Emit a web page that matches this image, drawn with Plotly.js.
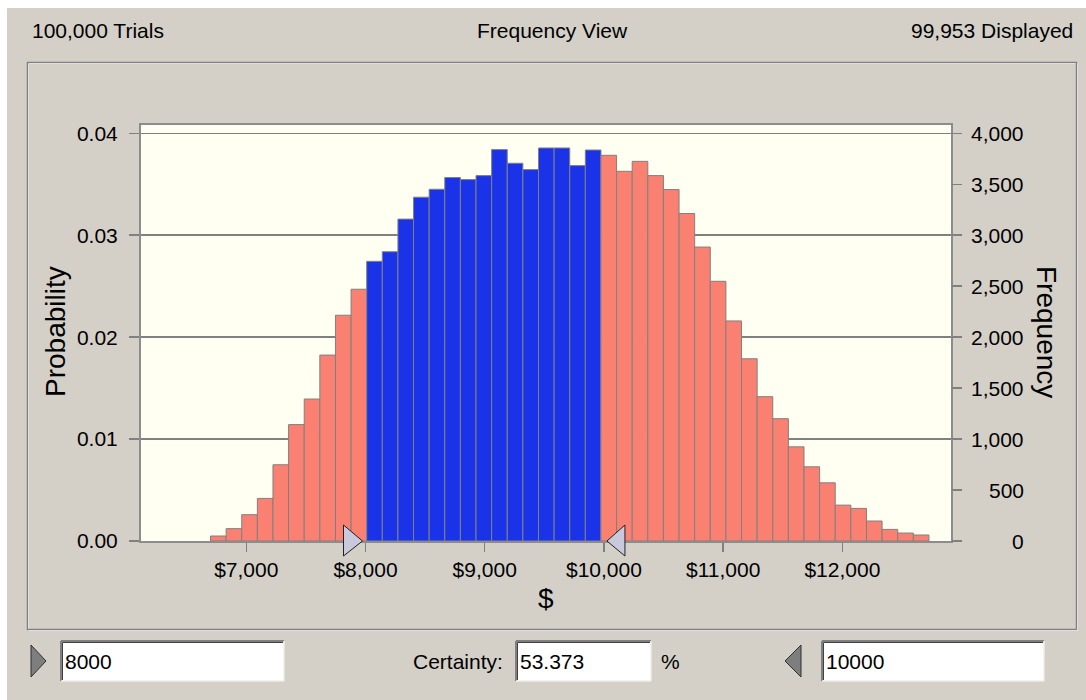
<!DOCTYPE html>
<html><head><meta charset="utf-8">
<script src="https://cdn.plot.ly/plotly-3.0.1.min.js"></script>
<style>html,body{margin:0;padding:0;background:#D4D0C8;overflow:hidden}#chart{width:1086px;height:700px}</style>
</head><body><div id="chart"></div>
<script>
// ---- data ----
const trials = 100000;
const displayed = 99953;
const certainty = "53.373";
const lowerBound = 8000;
const upperBound = 10000;
const binStart = 6700;
const binWidth = 131;
const frequency = [49,121,258,418,748,1142,1393,1824,2215,2470,
  2744,2838,3158,3373,3451,3566,3546,3585,3840,3706,3644,3856,3856,3683,3836,
  3784,3627,3725,3585,3448,3213,2884,2548,2159,1788,1416,1200,924,728,571,352,320,196,114,78,59];
const xTickVals = [7000,8000,9000,10000,11000,12000];
const xTickText = ["$7,000","$8,000","$9,000","$10,000","$11,000","$12,000"];
const probTickVals = [0,0.01,0.02,0.03,0.04];
const probTickText = ["0.00","0.01","0.02","0.03","0.04"];
const freqTickVals = [0,500,1000,1500,2000,2500,3000,3500,4000];
const freqTickText = ["0","500","1,000","1,500","2,000","2,500","3,000","3,500","4,000"];

// ---- styling / geometry ----
const FONT = "Liberation Sans, Arial, sans-serif";
const RED = "#FA8072", BLUE = "#1B33E8", GRAY = "#D4D0C8";
const L = 141, R = 951, T = 125, B = 541, W = R - L, H = B - T;
const ax = p => (p - L) / W;
const ay = p => (B - p) / H;

const centers = frequency.map((_, i) => binStart + binWidth * (i + 0.5));
const prob = frequency.map(f => f / trials);
const colors = centers.map(c => (c > lowerBound && c < upperBound) ? BLUE : RED);

const probTop = 0.040814;

const traces = [
  {type: "bar", x: centers, y: prob, width: binWidth, yaxis: "y",
   marker: {color: colors, line: {color: "#808080", width: 1}}, hoverinfo: "x+y"},
  {type: "scatter", mode: "markers", x: centers, y: frequency, yaxis: "y2",
   marker: {opacity: 0, size: 1}, hoverinfo: "skip"}
];

function line(x0, y0, x1, y1, color, w) {
  return {type: "line", xref: "paper", yref: "paper", x0: ax(x0), y0: ay(y0), x1: ax(x1), y1: ay(y1),
          line: {color: color, width: w}, layer: "above"};
}
function textBox(x0, y0, x1, y1) {
  return [
    {type: "rect", xref: "paper", yref: "paper", x0: ax(x0), y0: ay(y0), x1: ax(x1), y1: ay(y1),
     fillcolor: "#FFFFFF", line: {width: 0}, layer: "above"},
    line(x0, y0, x1, y0, "#808080", 2),
    line(x0, y0, x0, y1, "#808080", 2),
    line(x0 + 1.5, y0 + 1.5, x1 - 1, y0 + 1.5, "#404040", 1),
    line(x0 + 1.5, y0 + 1.5, x0 + 1.5, y1 - 1, "#404040", 1),
    line(x0, y1, x1, y1, "#F0EEE8", 1.5),
    line(x1, y0, x1, y1, "#F0EEE8", 1.5)
  ];
}

const shapes = [
  // white margins of the screenshot
  {type: "rect", xref: "paper", yref: "paper", x0: ax(0), x1: ax(1086), y0: ay(0), y1: ay(8), fillcolor: "#FFFFFF", line: {width: 0}, layer: "above"},
  {type: "rect", xref: "paper", yref: "paper", x0: ax(0), x1: ax(7), y0: ay(0), y1: ay(700), fillcolor: "#FFFFFF", line: {width: 0}, layer: "above"},
  // etched frame
  {type: "rect", xref: "paper", yref: "paper", x0: ax(28.5), x1: ax(1077.5), y0: ay(63.5), y1: ay(630.5), line: {color: "#FFFFFF", width: 1}, layer: "below"},
  {type: "rect", xref: "paper", yref: "paper", x0: ax(27.5), x1: ax(1076.5), y0: ay(62.5), y1: ay(629.5), line: {color: "#808080", width: 1.5}, layer: "below"},
  // bound markers on the axis
  {type: "path", xref: "x", yref: "paper", xsizemode: "pixel", ysizemode: "pixel", xanchor: lowerBound, yanchor: 0,
   path: "M -22 16 L -22 -15 L -3 0 Z", fillcolor: "#C9C9DD", line: {color: "#202020", width: 1}, layer: "above"},
  {type: "path", xref: "x", yref: "paper", xsizemode: "pixel", ysizemode: "pixel", xanchor: upperBound, yanchor: 0,
   path: "M 21 16 L 21 -15 L 3 0 Z", fillcolor: "#C9C9DD", line: {color: "#202020", width: 1}, layer: "above"},
  // bottom row arrows
  {type: "path", xref: "paper", yref: "paper",
   path: `M ${ax(31)} ${ay(645)} L ${ax(46)} ${ay(661)} L ${ax(31)} ${ay(677)} Z`, fillcolor: "#7E7E7E", line: {color: "#303030", width: 1}, layer: "above"},
  {type: "path", xref: "paper", yref: "paper",
   path: `M ${ax(801)} ${ay(645)} L ${ax(785)} ${ay(661)} L ${ax(801)} ${ay(677)} Z`, fillcolor: "#7E7E7E", line: {color: "#303030", width: 1}, layer: "above"},
  ...textBox(61, 641, 284, 681),
  ...textBox(516, 641, 651, 681),
  ...textBox(822, 641, 1044, 681)
];

const f21 = {family: FONT, size: 21, color: "#000000"};
const f28 = {family: FONT, size: 28, color: "#000000"};
function note(text, x, y, xanchor, font, extra) {
  return Object.assign({text: text, xref: "paper", yref: "paper", x: ax(x), y: ay(y),
    xanchor: xanchor, yanchor: "middle", showarrow: false, font: font}, extra || {});
}
const annotations = [
  note(trials.toLocaleString("en-US") + " Trials", 30, 30, "left", f21),
  note("Frequency View", 552, 30, "center", f21),
  note(displayed.toLocaleString("en-US") + " Displayed", 1075, 30, "right", f21),
  note("Probability", 55, 332, "center", f28, {textangle: -90}),
  note("Frequency", 1047, 332, "center", f28, {textangle: 90}),
  note("$", 546, 598, "center", f28),
  note(String(lowerBound), 63, 661, "left", f21),
  note("Certainty:", 505, 661, "right", f21),
  note(certainty, 518, 661, "left", f21),
  note("%", 670, 661, "center", f21),
  note(String(upperBound), 824, 661, "left", f21)
];
freqTickVals.forEach((v, i) => {
  annotations.push({text: freqTickText[i], xref: "paper", yref: "y2", x: ax(1026), y: v,
    xanchor: "right", yanchor: "middle", showarrow: false, font: f21});
});

const layout = {
  width: 1086, height: 700,
  margin: {l: L, r: 1086 - R, t: T, b: 700 - B, pad: 0},
  paper_bgcolor: GRAY, plot_bgcolor: "#FFFFF2",
  bargap: 0, showlegend: false,
  xaxis: {range: [6117, 12911], tickvals: xTickVals, ticktext: xTickText, ticks: "outside", ticklen: 9,
          tickcolor: "#808080", tickwidth: 1.5, showgrid: false, zeroline: false,
          showline: true, linecolor: "#8C8C8C", linewidth: 2, mirror: true, tickfont: f21,
          ticklabelstandoff: 0, fixedrange: true},
  yaxis: {range: [0, probTop], tickvals: probTickVals, ticktext: probTickText, ticks: "outside", ticklen: 10,
          tickcolor: "#808080", tickwidth: 1.5, showgrid: true, gridcolor: "#808080", gridwidth: 1.5,
          zeroline: false, showline: true, linecolor: "#8C8C8C", linewidth: 2, mirror: true, tickfont: f21,
          ticklabelstandoff: 7, fixedrange: true},
  yaxis2: {range: [0, probTop * trials], overlaying: "y", side: "right", tickvals: freqTickVals,
           ticks: "outside", ticklen: 10, tickcolor: "#808080", tickwidth: 1.5, showgrid: false,
           zeroline: false, showticklabels: false, showline: false, fixedrange: true},
  shapes: shapes,
  annotations: annotations
};

Plotly.newPlot("chart", traces, layout, {displayModeBar: false, staticPlot: true});
</script></body></html>
